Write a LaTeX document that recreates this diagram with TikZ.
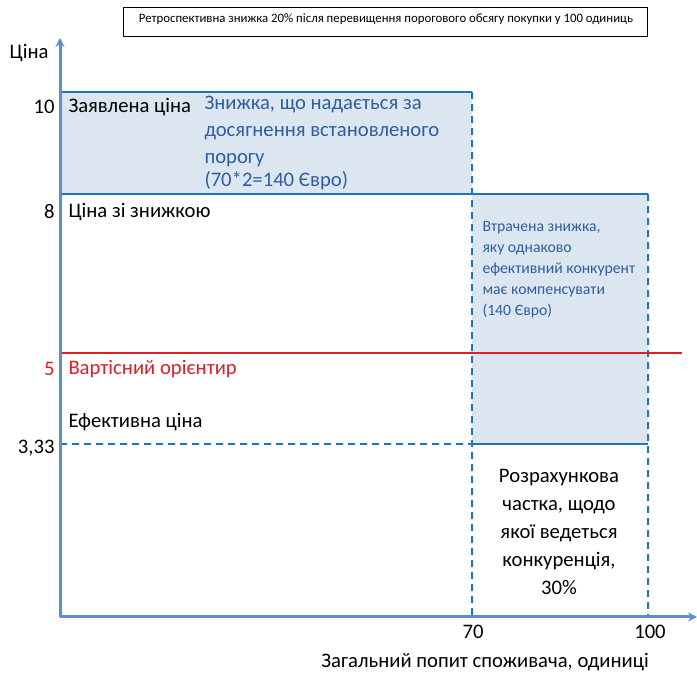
\documentclass[tikz,border=0pt]{standalone}
\usepackage{fontspec}
\setmainfont{Carlito}
\usepackage{tikz}
\usetikzlibrary{arrows.meta}
\definecolor{axisblue}{HTML}{5B8ED2}
\definecolor{boxblue}{HTML}{1F72C6}
\definecolor{dashblue}{HTML}{1577D2}
\definecolor{boxfill}{HTML}{DCE6F1}
\definecolor{textblue}{HTML}{2F5E9E}
\definecolor{refred}{HTML}{DD1F26}
\tikzset{every picture/.style={line width=0.75pt}}
\tikzset{
  axisline/.style={draw=axisblue, line width=2.25pt, -{Stealth[length=6.75pt,width=6.75pt]}},
  solidedge/.style={draw=boxblue, line width=2.2pt},
  dashedge/.style={draw=dashblue, line width=2.2pt, dash pattern=on 5.25pt off 3.75pt},
  lbl/.style={anchor=west, inner sep=0pt, font=\fontsize{15.5}{19}\selectfont},
  tick/.style={anchor=east, inner sep=0pt, font=\fontsize{15.5}{19}\selectfont}
}
\begin{document}
\begin{tikzpicture}[x=0.75pt,y=-0.75pt]
\useasboundingbox (0,0) rectangle (697,673);
% corners of the chart
\coordinate (o) at (60,617);
\coordinate (ytop) at (60,38);
\coordinate (xend) at (697,617);
\coordinate (a10) at (60,92);
\coordinate (b10) at (472,92);
\coordinate (a8) at (60,194);
\coordinate (b8) at (472,194);
\coordinate (c8) at (648,194);
\coordinate (r5) at (60,353);
\coordinate (r5e) at (682,353);
\coordinate (a3) at (60,444);
\coordinate (b3) at (472,444);
\coordinate (c3) at (648,444);
\coordinate (x70) at (472,617);
\coordinate (x100) at (648,617);
%
\fill[boxfill] (a10) rectangle (b8);
\fill[boxfill] (b8) rectangle (c3);
%
\node[draw, line width=0.75pt, minimum width=393pt, minimum height=21.75pt, inner sep=0pt] (title) at (385,22.5) {};
\node[inner sep=0pt, font=\fontsize{9.6}{11}\selectfont] (titletext) at (386,19)
  {Ретроспективна знижка 20\% після перевищення порогового обсягу покупки у 100 одиниць};
%
\foreach \Source/\Target in {%
	a10/b10,
	a8/c8,
	b3/c3%
    }
\draw[solidedge] (\Source) -- (\Target);
%
\foreach \Source/\Target in {%
	b10/x70,
	c8/x100,
	a3/b3%
    }
\draw[dashedge] (\Source) -- (\Target);
%
\draw[draw=refred, line width=1.5pt] (r5) -- (r5e);
%
\draw[axisline] (o) -- (ytop);
\draw[axisline] (o) -- (xend);
%
\node[anchor=east, inner sep=0pt, font=\fontsize{15.5}{19}\selectfont] (ylab) at (49,53) {Ціна};
\node[tick] (t10) at (55,107) {10};
\node[tick] (t8) at (55,212) {8};
\node[tick, text=refred] (t5) at (55,369) {5};
\node[tick] (t3) at (55,448) {3,33};
\node[inner sep=0pt, font=\fontsize{15.5}{19}\selectfont] (t70) at (473,632) {70};
\node[inner sep=0pt, font=\fontsize{15.5}{19}\selectfont] (t100) at (650,632) {100};
\node[inner sep=0pt, font=\fontsize{15.5}{19}\selectfont] (xlab) at (485,662) {Загальний попит споживача, одиниці};
%
\node[lbl] (listed) at (68,107) {Заявлена ціна};
\node[lbl] (discounted) at (68,212) {Ціна зі знижкою};
\node[lbl, text=refred] (benchmark) at (68,369) {Вартісний орієнтир};
\node[lbl] (effective) at (68,422) {Ефективна ціна};
%
\node[anchor=north west, inner sep=0pt, align=left, text=textblue, font=\fontsize{15.5}{20}\selectfont] (rebate) at (204,96)
  {Знижка, що надається за\\досягнення встановленого\\порогу\\[-2.5pt](70*2=140 Євро)};
\node[anchor=north west, inner sep=0pt, align=left, text=textblue, font=\fontsize{11.8}{15.75}\selectfont] (lost) at (482,221)
  {Втрачена знижка,\\яку однаково\\ефективний конкурент\\має компенсувати\\(140 Євро)};
\node[anchor=north, inner sep=0pt, align=center, font=\fontsize{15.5}{21}\selectfont] (share) at (559,469)
  {Розрахункова\\частка, щодо\\якої ведеться\\конкуренція,\\30\%};
\end{tikzpicture}
\end{document}
